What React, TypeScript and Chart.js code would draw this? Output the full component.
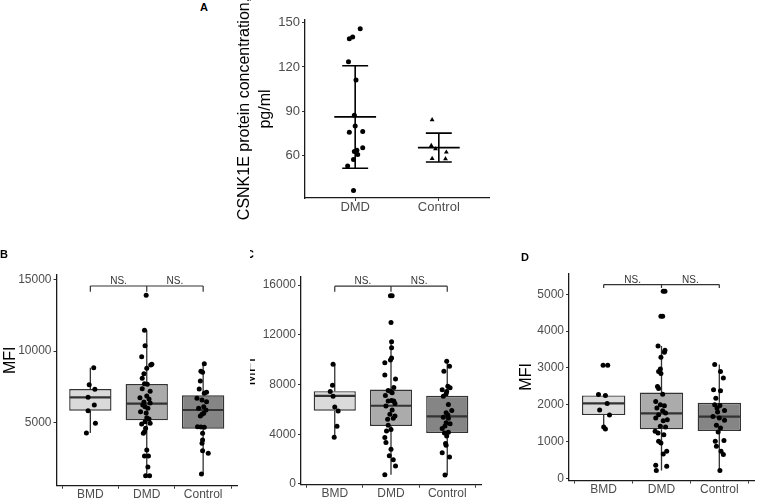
import React, { useEffect, useRef } from 'react';
import { Chart, registerables } from 'chart.js';

Chart.register(...registerables);

const FONT = "'Liberation Sans', Arial, Helvetica, sans-serif";
const TICK_COLOR = '#4D4D4D';
const LINE_COLOR = '#333333';
const BOX_FILLS = ['#DADADA', '#ABABAB', '#858585'];

// ---------------- Panel A ----------------
const aCategories = ['DMD', 'Control'];
const aTicks = [60, 90, 120, 150];
const aTitleLines = ['CSNK1E protein concentration,', 'pg/ml'];
const aDmdValues = [145.9, 140.3, 139.1, 123.5, 111.1, 87.4, 80.1, 75.8, 76.3, 65.4, 63.6, 62.7, 60.7, 57.3, 53.0, 36.3];
const aDmdJitter = [0.06, -0.03, -0.07, -0.08, 0.01, -0.01, 0.0, -0.07, 0.09, 0.09, 0.02, -0.01, 0.03, -0.02, -0.09, -0.02];
const aControlValues = [84.2, 66.8, 64.5, 62.3, 58.0, 57.8];
const aControlJitter = [-0.08, -0.09, -0.04, 0.09, -0.08, 0.08];
const aMean = [86.2, 65.4];
const aSdUpper = [120.8, 75.2];
const aSdLower = [51.4, 55.7];

// ---------------- Panels B-D ----------------
const boxCategories = ['BMD', 'DMD', 'Control'];
const sigLabel = 'NS.';
const yTitle = 'MFI';

// Panel B
const bTicks = [5000, 10000, 15000];
const bBmdValues = [8841, 7646, 7318, 6756, 6218, 5819, 4929, 4250];
const bBmdJitter = [0.06, -0.02, 0.08, -0.04, 0.07, -0.04, 0.09, -0.07];
const bDmdValues = [13923, 11464, 10386, 9613, 9075, 9028, 8794, 8419, 8091, 7716, 7669, 7365, 7178, 6850, 6733, 6639, 6428, 6358, 6218, 6100, 5983, 5749, 5655, 5328, 5234, 5047, 4882, 4929, 4578, 4344, 4227, 3056, 2634, 2634, 1861, 1252, 1252];
const bDmdJitter = [-0.01, -0.04, -0.03, -0.09, 0.09, 0.07, 0.0, -0.05, -0.08, -0.04, 0.01, -0.08, 0.06, 0.0, -0.12, 0.04, -0.05, 0.06, -0.07, -0.03, 0.02, -0.11, -0.01, 0.0, 0.04, -0.03, -0.09, 0.06, -0.02, -0.04, -0.06, 0.0, -0.04, 0.03, 0.02, -0.02, 0.05];
const bControlValues = [9122, 8583, 8513, 7904, 7342, 7108, 7037, 6686, 6569, 6452, 6100, 5983, 5866, 5632, 5561, 5444, 4695, 4672, 4648, 4227, 3758, 3524, 3009, 2822, 1370];
const bControlJitter = [0.02, -0.04, -0.01, -0.05, -0.07, 0.06, 0.02, -0.11, -0.02, 0.06, 0.01, -0.08, 0.05, 0.01, -0.02, -0.05, -0.10, -0.04, 0.02, -0.01, -0.01, -0.02, -0.01, 0.09, -0.03];
const bQ1 = [5819, 5140, 4555];
const bMedian = [6756, 6311, 5866];
const bQ3 = [7342, 7693, 6897];
const bWhiskerLow = [4250, 1252, 1370];
const bWhiskerHigh = [8841, 11464, 9122];
const bBracket = [14578, 14180];

// Panel C
const cTicks = [0, 4000, 8000, 12000, 16000];
const cBmdValues = [9626, 7946, 7440, 7066, 6186, 5866, 4639, 3759];
const cBmdJitter = [-0.03, -0.04, -0.08, -0.03, 0.0, 0.06, 0.04, -0.01];
const cDmdValues = [15147, 15147, 12987, 11440, 10960, 10133, 9973, 9760, 8773, 8453, 7760, 7520, 7467, 7333, 7120, 6720, 6667, 6667, 6480, 6267, 5947, 5600, 5467, 5280, 5200, 4720, 4373, 4267, 3733, 3333, 2800, 2267, 1947, 1440, 747];
const cDmdJitter = [-0.01, 0.02, 0.0, 0.01, 0.01, 0.01, -0.01, -0.11, -0.11, 0.08, 0.05, -0.05, -0.01, 0.02, -0.10, 0.01, -0.05, 0.05, 0.07, -0.09, 0.02, -0.02, 0.07, 0.04, -0.06, -0.05, 0.0, -0.08, -0.11, -0.09, 0.0, -0.03, 0.04, 0.08, -0.11];
const cControlValues = [9866, 9466, 9066, 7866, 7733, 7573, 7440, 7253, 7066, 6400, 5920, 5733, 5547, 5360, 5280, 4933, 4853, 4667, 4453, 4160, 4107, 3867, 3253, 3120, 2507, 2160, 720];
const cControlJitter = [-0.01, 0.04, -0.06, 0.01, 0.05, -0.09, -0.01, -0.02, -0.07, 0.02, 0.08, -0.02, 0.01, -0.07, 0.02, -0.02, 0.05, -0.04, -0.09, 0.02, -0.05, -0.01, -0.03, -0.02, -0.09, 0.04, -0.04];
const cQ1 = [5893, 4666, 4107];
const cMedian = [7093, 6293, 5440];
const cQ3 = [7467, 7600, 7093];
const cWhiskerLow = [3759, 747, 720];
const cWhiskerHigh = [9626, 11440, 9866];
const cBracket = [15920, 15467];

// Panel D
const dTicks = [0, 1000, 2000, 3000, 4000, 5000];
const dBmdValues = [3074, 3074, 2282, 2255, 2039, 1859, 1724, 1400, 1346];
const dBmdJitter = [-0.01, 0.07, -0.09, 0.03, 0.06, -0.07, 0.10, 0.0, 0.03];
const dDmdValues = [5081, 5081, 4406, 4406, 3596, 3479, 3425, 3290, 2975, 2903, 2849, 2498, 2444, 2291, 2093, 2003, 1976, 1913, 1841, 1778, 1733, 1643, 1598, 1571, 1418, 1400, 1283, 1238, 1193, 1013, 968, 743, 671, 365, 338, 221];
const dDmdJitter = [0.03, 0.06, -0.01, 0.02, -0.06, 0.06, 0.05, -0.01, -0.02, -0.05, -0.01, -0.07, -0.05, 0.02, -0.10, -0.02, 0.05, -0.08, 0.02, 0.07, -0.05, -0.10, 0.10, 0.03, -0.02, 0.07, -0.11, -0.06, 0.04, -0.05, -0.01, 0.09, 0.03, -0.10, 0.09, -0.09];
const dControlValues = [3092, 2903, 2732, 2408, 2381, 2183, 2003, 1985, 1913, 1850, 1805, 1688, 1643, 1580, 1445, 1373, 1265, 1031, 1013, 878, 743, 653, 221];
const dControlJitter = [-0.08, 0.02, 0.07, -0.10, 0.02, -0.06, -0.08, 0.01, -0.04, 0.09, -0.03, -0.11, 0.0, 0.09, -0.05, 0.02, -0.02, 0.08, -0.07, -0.05, 0.03, 0.07, 0.01];
const dQ1 = [1724, 1337, 1292];
const dMedian = [2039, 1769, 1679];
const dQ3 = [2255, 2336, 2057];
const dWhiskerLow = [1346, 221, 221];
const dWhiskerHigh = [2282, 3596, 3092];
const dBracket = [5261, 5171];

// ---------------- helpers ----------------
function gridOpts() {
  return {
    display: true,
    drawOnChartArea: false,
    drawTicks: true,
    tickLength: 3,
    tickWidth: 1,
    tickColor: LINE_COLOR,
    color: LINE_COLOR,
  };
}
function borderOpts() {
  return { display: true, color: '#1A1A1A', width: 1.3 };
}

function xScale(cats: string[], height: number, fontSize: number) {
  return {
    type: 'linear',
    min: -0.6,
    max: cats.length - 0.4,
    offset: false,
    afterBuildTicks: (s: any) => {
      s.ticks = cats.map((_, i) => ({ value: i }));
    },
    afterFit: (s: any) => {
      s.height = height;
    },
    ticks: {
      callback: (v: any) => cats[v] ?? '',
      color: TICK_COLOR,
      font: { family: FONT, size: fontSize, lineHeight: 1 },
      padding: 0,
      maxRotation: 0,
      autoSkip: false,
    },
    grid: gridOpts(),
    border: borderOpts(),
  };
}

function yScale(ticks: number[], min: number, max: number, width: number, fontSize: number) {
  return {
    type: 'linear',
    min,
    max,
    afterBuildTicks: (s: any) => {
      s.ticks = ticks.map((v) => ({ value: v }));
    },
    afterFit: (s: any) => {
      s.width = width;
    },
    ticks: {
      callback: (v: any) => String(v),
      color: TICK_COLOR,
      font: { family: FONT, size: fontSize },
      padding: 2,
    },
    grid: gridOpts(),
    border: borderOpts(),
    title: { display: false },
  };
}

function drawRotatedTitle(chart: any, lines: string[], offsets: number[], dy: number) {
  const { ctx, chartArea } = chart;
  const cy = (chartArea.top + chartArea.bottom) / 2 + dy;
  ctx.save();
  ctx.fillStyle = '#000000';
  ctx.font = `16px ${FONT}`;
  ctx.textAlign = 'center';
  ctx.textBaseline = 'middle';
  lines.forEach((line, i) => {
    ctx.save();
    ctx.translate(chartArea.left - offsets[i], cy);
    ctx.rotate(-Math.PI / 2);
    ctx.fillText(line, 0, 0);
    ctx.restore();
  });
  ctx.restore();
}

function makeBoxConfig(p: any) {
  const plugin = {
    id: 'boxExtras',
    beforeDatasetsDraw(chart: any) {
      const { ctx } = chart;
      const x = chart.scales.x;
      const y = chart.scales.y;
      ctx.save();
      ctx.strokeStyle = LINE_COLOR;
      ctx.lineWidth = 1.3;
      p.q1.forEach((_: number, i: number) => {
        const px = x.getPixelForValue(i);
        ctx.beginPath();
        ctx.moveTo(px, y.getPixelForValue(p.hi[i]));
        ctx.lineTo(px, y.getPixelForValue(p.q3[i]));
        ctx.moveTo(px, y.getPixelForValue(p.q1[i]));
        ctx.lineTo(px, y.getPixelForValue(p.lo[i]));
        ctx.stroke();
      });
      ctx.restore();
    },
    afterDatasetDraw(chart: any, args: any) {
      if (args.index !== 0) return;
      const { ctx } = chart;
      const y = chart.scales.y;
      const meta = chart.getDatasetMeta(0);
      ctx.save();
      ctx.strokeStyle = LINE_COLOR;
      ctx.lineWidth = 2.2;
      meta.data.forEach((el: any, i: number) => {
        const half = el.width / 2 - 0.6;
        const py = y.getPixelForValue(p.med[i]);
        ctx.beginPath();
        ctx.moveTo(el.x - half, py);
        ctx.lineTo(el.x + half, py);
        ctx.stroke();
      });
      ctx.restore();
    },
    afterDraw(chart: any) {
      const { ctx } = chart;
      const x = chart.scales.x;
      const y = chart.scales.y;
      const y0 = y.getPixelForValue(p.bracket[0]);
      const y1 = y.getPixelForValue(p.bracket[1]);
      const n = p.cats.length;
      ctx.save();
      ctx.strokeStyle = LINE_COLOR;
      ctx.lineWidth = 1.2;
      ctx.beginPath();
      ctx.moveTo(x.getPixelForValue(0), y0);
      ctx.lineTo(x.getPixelForValue(n - 1), y0);
      for (let i = 0; i < n; i++) {
        ctx.moveTo(x.getPixelForValue(i), y0);
        ctx.lineTo(x.getPixelForValue(i), y1);
      }
      ctx.stroke();
      ctx.fillStyle = LINE_COLOR;
      ctx.font = `10px ${FONT}`;
      ctx.textAlign = 'center';
      ctx.textBaseline = 'alphabetic';
      for (let i = 0; i < n - 1; i++) {
        ctx.fillText(sigLabel, x.getPixelForValue(i + 0.5), y0 - 2);
      }
      ctx.restore();
      drawRotatedTitle(chart, [yTitle], [p.titleOffset], p.titleDy);
    },
  };

  return {
    type: 'scatter',
    data: {
      datasets: [
        {
          type: 'bar',
          data: p.cats.map((_: string, i: number) => ({ x: i, y: [p.q1[i], p.q3[i]] })),
          backgroundColor: BOX_FILLS,
          borderColor: LINE_COLOR,
          borderWidth: 1.4,
          borderSkipped: false,
          categoryPercentage: 1,
          barPercentage: 0.75,
          order: 2,
        },
        ...p.groups.map((g: any, i: number) => ({
          type: 'scatter',
          data: g.values.map((v: number, j: number) => ({ x: i + g.jitter[j], y: v })),
          pointRadius: 2.5,
          pointBackgroundColor: '#000000',
          pointBorderWidth: 0,
          order: 1,
        })),
      ],
    },
    options: {
      responsive: false,
      animation: false,
      events: [],
      plugins: { legend: { display: false }, tooltip: { enabled: false } },
      layout: { padding: { left: 0, right: p.padRight, top: p.padTop, bottom: 0 } },
      scales: {
        x: xScale(p.cats, p.xHeight, 12),
        y: yScale(p.ticks, p.yMin, p.yMax, p.yWidth, 12),
      },
    },
    plugins: [plugin],
  };
}

function makeAConfig() {
  const plugin = {
    id: 'errorBars',
    afterDatasetsDraw(chart: any) {
      const { ctx } = chart;
      const x = chart.scales.x;
      const y = chart.scales.y;
      const unit = x.getPixelForValue(1) - x.getPixelForValue(0);
      ctx.save();
      ctx.strokeStyle = '#000000';
      ctx.lineWidth = 1.6;
      aMean.forEach((m, i) => {
        const px = x.getPixelForValue(i);
        const yu = y.getPixelForValue(aSdUpper[i]);
        const yl = y.getPixelForValue(aSdLower[i]);
        const ym = y.getPixelForValue(m);
        ctx.beginPath();
        ctx.moveTo(px, yu);
        ctx.lineTo(px, yl);
        ctx.moveTo(px - unit * 0.155, yu);
        ctx.lineTo(px + unit * 0.155, yu);
        ctx.moveTo(px - unit * 0.155, yl);
        ctx.lineTo(px + unit * 0.155, yl);
        ctx.moveTo(px - unit * 0.25, ym);
        ctx.lineTo(px + unit * 0.25, ym);
        ctx.stroke();
      });
      ctx.restore();
    },
    afterDraw(chart: any) {
      drawRotatedTitle(chart, aTitleLines, [60, 39], 0);
    },
  };
  return {
    type: 'scatter',
    data: {
      datasets: [
        {
          data: aDmdValues.map((v, j) => ({ x: 0 + aDmdJitter[j], y: v })),
          pointRadius: 2.5,
          pointStyle: 'circle',
          pointBackgroundColor: '#000000',
          pointBorderWidth: 0,
        },
        {
          data: aControlValues.map((v, j) => ({ x: 1 + aControlJitter[j], y: v })),
          pointRadius: 2.8,
          pointStyle: 'triangle',
          pointBackgroundColor: '#000000',
          pointBorderWidth: 0,
        },
      ],
    },
    options: {
      responsive: false,
      animation: false,
      events: [],
      plugins: { legend: { display: false }, tooltip: { enabled: false } },
      layout: { padding: { left: 0, right: 11, top: 20, bottom: 0 } },
      scales: {
        x: xScale(aCategories, 32, 13),
        y: yScale(aTicks, 31.3, 151.8, 75, 13),
      },
    },
    plugins: [plugin],
  };
}

function ChartCanvas({ left, top, width, height, build }: any) {
  const ref = useRef<HTMLCanvasElement>(null);
  useEffect(() => {
    const chart = new Chart(ref.current as HTMLCanvasElement, build() as any);
    return () => chart.destroy();
  }, []);
  return (
    <canvas
      ref={ref}
      width={width}
      height={height}
      style={{ position: 'absolute', left, top, width, height }}
    />
  );
}

const panelB = {
  cats: boxCategories,
  groups: [
    { values: bBmdValues, jitter: bBmdJitter },
    { values: bDmdValues, jitter: bDmdJitter },
    { values: bControlValues, jitter: bControlJitter },
  ],
  q1: bQ1, med: bMedian, q3: bQ3, lo: bWhiskerLow, hi: bWhiskerHigh, bracket: bBracket,
  ticks: bTicks, yMin: 550, yMax: 15350,
  padTop: 20, padRight: 8, yWidth: 56.5, xHeight: 15.3, titleOffset: 46, titleDy: -20,
};
const panelC = {
  cats: boxCategories,
  groups: [
    { values: cBmdValues, jitter: cBmdJitter },
    { values: cDmdValues, jitter: cDmdJitter },
    { values: cControlValues, jitter: cControlJitter },
  ],
  q1: cQ1, med: cMedian, q3: cQ3, lo: cWhiskerLow, hi: cWhiskerHigh, bracket: cBracket,
  ticks: cTicks, yMin: -60, yMax: 16680,
  padTop: 21.7, padRight: 9, yWidth: 51, xHeight: 16.3, titleOffset: 50, titleDy: -9,
};
const panelD = {
  cats: boxCategories,
  groups: [
    { values: dBmdValues, jitter: dBmdJitter },
    { values: dDmdValues, jitter: dDmdJitter },
    { values: dControlValues, jitter: dControlJitter },
  ],
  q1: dQ1, med: dMedian, q3: dQ3, lo: dWhiskerLow, hi: dWhiskerHigh, bracket: dBracket,
  ticks: dTicks, yMin: -50, yMax: 5567,
  padTop: 18.3, padRight: 2, yWidth: 69, xHeight: 20.5, titleOffset: 42, titleDy: 0,
};

const letterStyle: any = {
  position: 'absolute',
  fontFamily: FONT,
  fontWeight: 'bold',
  fontSize: 11,
  lineHeight: '11px',
  color: '#000000',
};

export default function App() {
  return (
    <div
      style={{
        position: 'absolute',
        left: 0,
        top: 0,
        width: 758,
        height: 501,
        overflow: 'hidden',
        background: '#FFFFFF',
      }}
    >
      <ChartCanvas left={230} top={0} width={270} height={230} build={makeAConfig} />
      <ChartCanvas left={0} top={255} width={245} height={246} build={() => makeBoxConfig(panelB)} />
      <ChartCanvas left={250} top={255} width={240} height={246} build={() => makeBoxConfig(panelC)} />
      <ChartCanvas left={500} top={255} width={258} height={246} build={() => makeBoxConfig(panelD)} />
      <div style={{ ...letterStyle, left: 200, top: 2 }}>A</div>
      <div style={{ ...letterStyle, left: 0, top: 249 }}>B</div>
      <div style={{ position: 'absolute', left: 250, top: 249, width: 10, height: 14, overflow: 'hidden' }}>
        <div style={{ ...letterStyle, left: -4, top: 0 }}>C</div>
      </div>
      <div style={{ ...letterStyle, left: 521, top: 252 }}>D</div>
    </div>
  );
}
